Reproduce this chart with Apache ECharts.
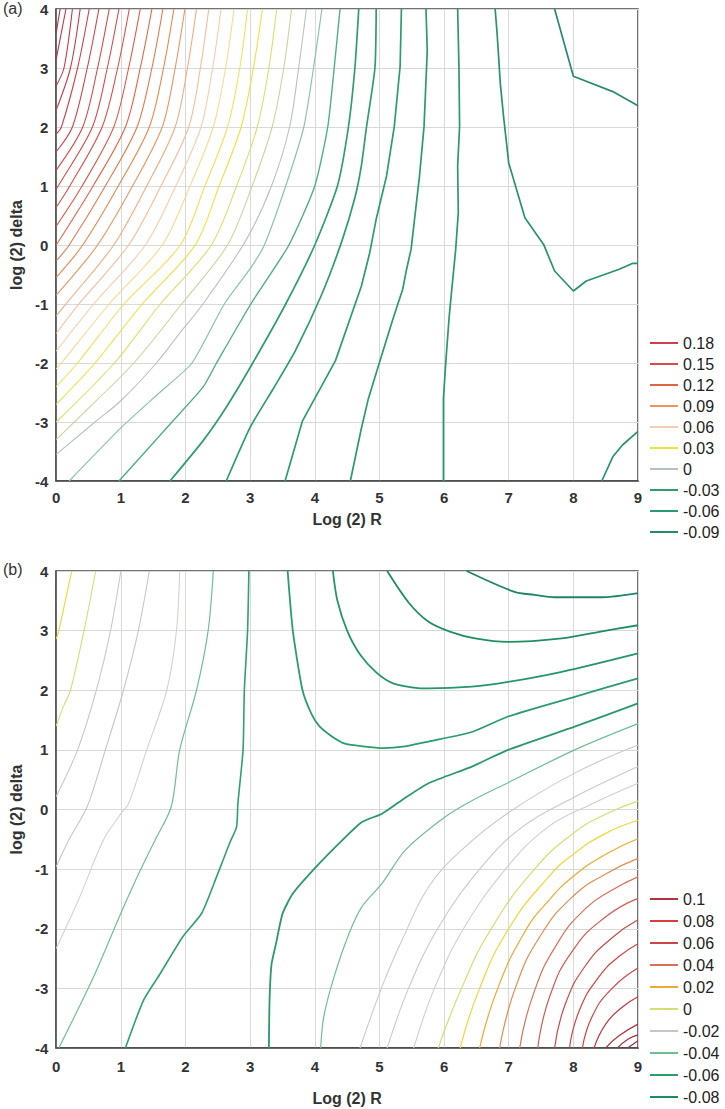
<!DOCTYPE html>
<html><head><meta charset="utf-8">
<script src="https://cdn.jsdelivr.net/npm/echarts@6/dist/echarts.min.js"></script>
<style>html,body{margin:0;padding:0;background:#fff}#c{width:725px;height:1109px}</style>
</head><body><div id="c"></div><script>
// ---------- Panel (a) data ----------
const aRowY = [4, 3, 2, 1, 0, -1, -2, -3];
// x position where each positive contour (0.01 .. 0.22) crosses the row
const aTop = [3.64,3.41,3.19,2.96,2.75,2.55,2.36,2.17,1.99,1.82,1.65,1.48,1.30,1.13,0.97,0.82,0.66,0.51,0.37,0.25,0.15,0.06];
const aY3  = [3.52,3.29,3.05,2.84,2.62,2.42,2.23,2.03,1.84,1.66,1.48,1.30,1.12,0.95,0.79,0.64,0.48,0.33,0.22,0.12,null,null];
const aY2  = [3.34,3.11,2.86,2.65,2.43,2.24,2.05,1.84,1.64,1.44,1.25,1.07,0.89,0.71,0.56,0.41,0.25,0.08,null,null,null,null];
const aY1  = [3.03,2.79,2.52,2.30,2.07,1.85,1.62,1.40,1.18,0.96,0.76,0.57,0.40,0.21,0.03,null,null,null,null,null,null,null];
const aY0  = [2.65,2.40,2.15,1.92,1.64,1.38,1.12,0.89,0.64,0.41,0.20,null,null,null,null,null,null,null,null,null,null,null];
const aYm1 = [1.94,1.61,1.33,1.05,0.82,0.58,0.35,0.15,null,null,null,null,null,null,null,null,null,null,null,null,null,null];
const aYm2 = [1.20,0.90,0.60,0.33,0.08,null,null,null,null,null,null,null,null,null,null,null,null,null,null,null,null,null];
const aYm3 = [0.28,null,null,null,null,null,null,null,null,null,null,null,null,null,null,null,null,null,null,null,null,null];
// y where each positive contour meets the left edge (x = 0)
const aLeftY = [-3.3,-3.0,-2.7,-2.4,-2.1,-1.8,-1.5,-1.2,-0.85,-0.55,-0.27,0.0,0.32,0.64,0.95,1.27,1.58,1.88,2.29,2.7,3.15,3.6];
const aPosLevels = [0.01,0.02,0.03,0.04,0.05,0.06,0.07,0.08,0.09,0.10,0.11,0.12,0.13,0.14,0.15,0.16,0.17,0.18,0.19,0.20,0.21,0.22];

const aZero = [[0,-3.55],[0.6,-3.0],[1.0,-2.64],[1.55,-2],[1.92,-1.48],[2.27,-1],[2.93,0.07],[3.33,1],[3.61,2],[3.75,3],[3.87,4]];
const aN1 = [[0.2,-4],[1.0,-3.1],[1.6,-2.5],[2.1,-2.0],[2.6,-1.0],[3.0,-0.4],[3.22,0],[3.55,1],[3.83,2],[3.98,3],[4.11,4]];
const aN2 = [[0.97,-4],[1.79,-3],[2.27,-2.41],[2.48,-2],[3.01,-1],[3.6,0],[4.0,1],[4.2,2],[4.3,3],[4.39,4]];
const aN3 = [[1.76,-4],[2.27,-3.32],[2.63,-2.75],[3.04,-2],[3.55,-1],[4.0,0],[4.35,1],[4.52,2],[4.62,3],[4.68,4]];
const aN4 = [[2.63,-4],[3.0,-3.09],[3.35,-2.45],[3.7,-1.79],[4.11,-0.83],[4.42,0.07],[4.62,0.8],[4.72,1.34],[4.8,2],[4.93,3],[4.95,4]];
const aN5 = [[3.54,-4],[3.81,-2.98],[4.32,-1.96],[4.72,-0.7],[4.85,-0.13],[4.95,0.44],[5.11,1.17],[5.23,2.01],[5.32,3.03],[5.34,4]];
const aN6 = [[4.55,-4],[4.72,-3.11],[4.83,-2.6],[5.0,-1.99],[5.21,-1.25],[5.36,-0.75],[5.42,-0.41],[5.49,-0.07],[5.62,1.17],[5.69,2.01],[5.74,3.3],[5.72,4]];
const aN7 = [[5.99,-4],[5.99,-2.6],[6.03,-1.93],[6.08,-1.2],[6.13,-0.63],[6.18,-0.07],[6.22,0.55],[6.21,1.34],[6.24,2.01],[6.23,3.03],[6.21,4]];
const aN8 = [[6.79,4],[6.82,3.59],[6.87,2.74],[6.92,2.18],[7.0,1.39],[7.25,0.46],[7.54,0.01],[7.71,-0.44],[8.0,-0.78],[8.2,-0.61],[8.71,-0.41],[8.92,-0.31],[9.0,-0.31]];
const aN9 = [[7.71,4],[8.0,2.86],[8.61,2.6],[9.0,2.36]];
const aN8b = [[8.44,-4],[8.61,-3.59],[8.76,-3.39],[9.0,-3.16]];
const aLegend = ['0.18','0.15','0.12','0.09','0.06','0.03','0','-0.03','-0.06','-0.09'];

// ---------- Panel (b) data ----------
const bY1 = [[0,2.86],[0.04,3.0],[0.14,3.5],[0.24,4]];
const bY2 = [[0,1.4],[0.1,1.7],[0.22,2.0],[0.43,3.0],[0.61,4]];
const bG1 = [[0,0.22],[0.33,1],[0.62,2],[0.84,3],[1.0,4]];
const bG2 = [[0,-0.96],[0.2,-0.5],[0.48,0.05],[0.76,1],[1.04,2],[1.27,3],[1.44,4]];
const bG3 = [[0,-2.33],[0.35,-1.5],[0.73,-0.51],[1.0,-0.07],[1.12,0.1],[1.4,1],[1.71,2],[1.86,3],[1.91,4]];
const bGL = [[0.04,-4],[0.58,-2.8],[1.0,-1.74],[1.3,-1.02],[1.53,-0.51],[1.78,0.05],[1.91,1],[2.17,2],[2.35,3],[2.43,4]];
const bGM = [[1.07,-4],[1.35,-3.2],[1.61,-2.75],[1.96,-2.13],[2.25,-1.74],[2.48,-1.13],[2.68,-0.57],[2.79,-0.29],[2.81,0.1],[2.89,1],[2.91,2],[2.96,3],[2.98,4]];
const bU  = [[3.58,4],[3.66,3],[3.81,2],[3.95,1.6],[4.07,1.4],[4.3,1.2],[4.48,1.1],[4.74,1.06],[5.05,1.03],[5.4,1.06],[5.76,1.14],[6.43,1.3],[6.99,1.56],[8.02,1.89],[9.0,2.2]];
const bL7 = [[4.28,4],[4.35,3.5],[4.5,3.0],[4.7,2.6],[4.95,2.3],[5.2,2.12],[5.5,2.05],[5.76,2.03],[6.43,2.06],[6.99,2.14],[7.82,2.31],[9.0,2.62]];
const bL8 = [[5.12,4],[5.46,3.46],[5.76,3.15],[6.1,2.98],[6.48,2.87],[6.99,2.81],[7.82,2.87],[8.4,2.98],[9.0,3.09]];
const bL9 = [[6.35,4],[7.09,3.65],[7.4,3.6],[7.71,3.56],[8.43,3.56],[9.0,3.63]];
const bR5 = [[3.29,-4],[3.3,-3.2],[3.33,-2.6],[3.4,-2.25],[3.5,-1.75],[3.66,-1.41],[3.97,-1.02],[4.43,-0.51],[4.73,-0.21],[5.04,-0.07],[5.35,0.16],[5.76,0.44],[6.43,0.72],[6.99,1.0],[8.02,1.39],[9.0,1.78]];
const bR4 = [[4.09,-4],[4.14,-3.47],[4.3,-2.8],[4.53,-2.08],[4.73,-1.63],[5.04,-1.24],[5.4,-0.68],[6.02,-0.12],[6.45,0.16],[6.99,0.45],[8.02,1.0],[9.0,1.44]];
const bR3 = [[4.7,-4],[5.04,-2.97],[5.35,-2.19],[5.76,-1.3],[6.27,-0.68],[7.0,-0.05],[8.02,0.61],[9.0,1.08]];
const bR2 = [[5.12,-4],[5.45,-3],[5.9,-2],[6.55,-1.0],[7.2,-0.3],[8.02,0.21],[9,0.72]];
const bR1 = [[5.53,-4],[5.85,-3],[6.3,-2],[6.95,-1],[7.6,-0.3],[8.3,0.1],[9,0.44]];
const bP00 = [[5.91,-4],[6.27,-3],[6.73,-2],[7.4,-1],[8.0,-0.4],[8.5,-0.08],[9,0.14]];
const bP01 = [[6.25,-4],[6.55,-3],[7.0,-2],[7.6,-1.15],[8.0,-0.75],[8.5,-0.4],[9,-0.18]];
const bP02 = [[6.55,-4],[6.83,-3],[7.25,-2.05],[7.6,-1.55],[8.0,-1.12],[8.5,-0.75],[9,-0.49]];
const bP03 = [[6.86,-4],[7.1,-3],[7.5,-2.1],[8.0,-1.45],[8.5,-1.08],[9,-0.82]];
const bP04 = [[7.17,-4],[7.38,-3.1],[7.75,-2.25],[8.2,-1.65],[8.6,-1.35],[9,-1.13]];
const bP05 = [[7.45,-4],[7.63,-3.15],[8.0,-2.35],[8.5,-1.8],[9,-1.49]];
const bP06 = [[7.71,-4],[7.88,-3.25],[8.2,-2.6],[8.6,-2.15],[9,-1.85]];
const bP07 = [[7.94,-4],[8.1,-3.35],[8.4,-2.8],[8.7,-2.47],[9,-2.25]];
const bP08 = [[8.14,-4],[8.3,-3.45],[8.6,-3.0],[9,-2.66]];
const bP09 = [[8.32,-4],[8.5,-3.6],[8.75,-3.32],[9,-3.14]];
const bP10 = [[8.5,-4],[8.7,-3.8],[9,-3.6]];
const bP11 = [[8.68,-4],[8.85,-3.85],[9,-3.78]];
const bP12 = [[8.84,-4],[9,-3.88]];
const bLegend = ['0.1','0.08','0.06','0.04','0.02','0','-0.02','-0.04','-0.06','-0.08'];

// ---------- styles ----------
const aPosColors = ['#cfd0a0','#dedd6a','#ece23a','#f1e05a','#f4dc90','#f6cdb0','#f3bd98','#efab80','#ea9560','#e8884c','#e6784a','#e26448','#df5848','#dc5048','#da4a4a','#d6474a','#d2434a','#cf404a','#ca3c4a','#c4384a','#be344a','#b8304a'];
const FONT = 'Liberation Sans, Arial, sans-serif';

function ls(pts, gi, color, width, name, smooth) {
  const s = {type:'line', xAxisIndex:gi, yAxisIndex:gi, data:pts, symbol:'none', showSymbol:false,
    smooth: smooth || 0, lineStyle:{color:color, width:width}, itemStyle:{color:color},
    animation:false, silent:true, clip:true, z:3};
  if (name) s.name = name;
  return s;
}

const series = [];
const aRows = [aTop, aY3, aY2, aY1, aY0, aYm1, aYm2, aYm3];
aPosLevels.forEach((lv, i) => {
  const pts = [];
  aRows.forEach((row, r) => { if (row[i] !== null) pts.push([row[i], aRowY[r]]); });
  pts.push([0, aLeftY[i]]);
  const lbl = String(lv);
  const nm = aLegend.indexOf(lbl) >= 0 ? 'a:' + lbl : null;
  series.push(ls(pts, 0, aPosColors[i], 1.1, nm, 0.3));
});
series.push(ls(aZero, 0, '#b9c0bd', 1.1, 'a:0', 0.3));
series.push(ls(aN1, 0, '#8cc3a6', 1.2, null, 0.2));
series.push(ls(aN2, 0, '#4fb084', 1.4, null, 0.2));
series.push(ls(aN3, 0, '#2e9e6e', 1.7, 'a:-0.03', 0.2));
series.push(ls(aN4, 0, '#2e9e6e', 1.7, null, 0.2));
series.push(ls(aN5, 0, '#2d9c6e', 1.7, null, 0));
series.push(ls(aN6, 0, '#2c9a6e', 1.7, 'a:-0.06', 0));
series.push(ls(aN7, 0, '#2b986e', 1.7, null, 0));
series.push(ls(aN8, 0, '#2a9270', 1.7, null, 0));
series.push(ls(aN9, 0, '#288a6e', 1.7, 'a:-0.09', 0));
series.push(ls(aN8b, 0, '#2a9270', 1.7, null, 0));

const bSpec = [
  [bY1,'#e6dc30',1.1,null,0.3],[bY2,'#d6dc78',1.1,'b:0',0.3],[bG1,'#c9c9c9',1.1,null,0.3],[bG2,'#c6c6c6',1.1,'b:-0.02',0.3],
  [bG3,'#d0d4d0',1.1,null,0.3],[bGL,'#6fbf93',1.2,'b:-0.04',0.3],[bGM,'#30a070',1.6,null,0.2],[bU,'#2a9d6a',1.8,'b:-0.06',0.2],
  [bL7,'#25956a',1.8,null,0.3],[bL8,'#1f8f62',1.8,'b:-0.08',0.3],[bL9,'#1f8566',1.8,null,0.3],
  [bR5,'#2a9a68',1.8,null,0.2],[bR4,'#6fbf93',1.2,null,0.3],[bR3,'#c8ccc8',1.1,null,0.4],[bR2,'#c9c9c9',1.1,null,0.4],[bR1,'#cfcfcf',1.1,null,0.4],
  [bP00,'#d6dc70',1.2,null,0.5],[bP01,'#ecd838',1.2,null,0.5],[bP02,'#efa830',1.2,'b:0.02',0.5],[bP03,'#e38c50',1.2,null,0.5],
  [bP04,'#d8705a',1.2,'b:0.04',0.5],[bP05,'#d25a50',1.2,null,0.5],[bP06,'#cc4848',1.2,'b:0.06',0.5],[bP07,'#d04444',1.2,null,0.5],
  [bP08,'#d84040',1.2,'b:0.08',0.5],[bP09,'#c03a40',1.2,null,0.5],[bP10,'#b0343f',1.2,'b:0.1',0.5],[bP11,'#a8303f',1.2,null,0.5],[bP12,'#a02a40',1.2,null,0.5]
];
bSpec.forEach(s => series.push(ls(s[0], 1, s[1], s[2], s[3], s[4])));

function xAx(gi, gap, margin) {
  return {gridIndex:gi, type:'value', min:0, max:9, interval:1,
    name:'Log (2) R', nameLocation:'middle', nameGap:gap,
    nameTextStyle:{fontSize:16, fontWeight:'bold', color:'#333', fontFamily:FONT},
    axisLine:{show:true, onZero:false, lineStyle:{color:'#444', width:1.5}}, axisTick:{show:false},
    axisLabel:{fontSize:15, fontWeight:'bold', color:'#333', margin:margin, fontFamily:FONT},
    splitLine:{show:true, lineStyle:{color:'#d9d9d9', width:1}}};
}
function yAx(gi) {
  return {gridIndex:gi, type:'value', min:-4, max:4, interval:1,
    name:'log (2) delta', nameLocation:'middle', nameGap:31,
    nameTextStyle:{fontSize:16, fontWeight:'bold', color:'#333', fontFamily:FONT},
    axisLine:{show:true, onZero:false, lineStyle:{color:'#444', width:1.5}}, axisTick:{show:false},
    axisLabel:{fontSize:15, fontWeight:'bold', color:'#333', margin:8, fontFamily:FONT},
    splitLine:{show:true, lineStyle:{color:'#d9d9d9', width:1}}};
}
function leg(names, prefix, top, gap) {
  return {data:names.map(n => prefix + n), orient:'vertical', left:650, top:top, padding:0,
    itemWidth:28, itemHeight:2, itemGap:gap, icon:'rect', selectedMode:false,
    formatter: n => n.slice(2),
    textStyle:{fontSize:16, color:'#222', fontFamily:FONT}};
}

const chart = echarts.init(document.getElementById('c'), null, {renderer:'svg'});
chart.setOption({
  backgroundColor:'#fff',
  animation:false,
  grid:[
    {left:52, top:9, width:586, height:472, show:true, borderColor:'#444', borderWidth:1.5},
    {left:52, top:571, width:586, height:477, show:true, borderColor:'#444', borderWidth:1.5}
  ],
  xAxis:[xAx(0, 30, 9), xAx(1, 42, 11)],
  yAxis:[yAx(0), yAx(1)],
  legend:[leg(aLegend, 'a:', 335, 5), leg(bLegend, 'b:', 891, 6)],
  graphic:[
    {type:'text', left:3, top:0, style:{text:'(a)', fontSize:16, fill:'#333', fontFamily:FONT}},
    {type:'text', left:3, top:561, style:{text:'(b)', fontSize:16, fill:'#333', fontFamily:FONT}}
  ],
  series:series
});
</script></body></html>
